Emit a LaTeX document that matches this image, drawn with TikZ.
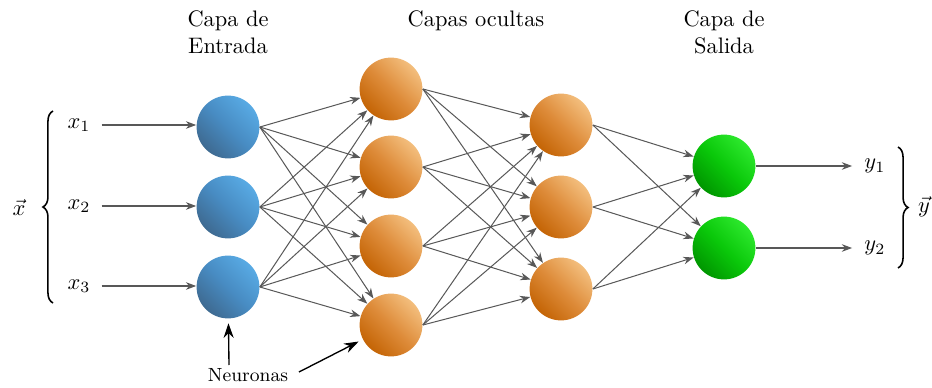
\documentclass[tikz,border=0pt]{standalone}
\usetikzlibrary{arrows.meta,decorations.pathreplacing,calc}
\definecolor{edgegray}{RGB}{88,88,88}
\definecolor{blueL}{RGB}{88,170,228}
\definecolor{blueM}{RGB}{72,140,195}
\definecolor{blueD}{RGB}{62,106,145}
\definecolor{orangeL}{RGB}{243,190,125}
\definecolor{orangeM}{RGB}{222,140,58}
\definecolor{orangeD}{RGB}{196,100,5}
\definecolor{greenL}{RGB}{45,232,45}
\definecolor{greenM}{RGB}{10,200,10}
\definecolor{greenD}{RGB}{0,150,0}
\begin{document}
\begin{tikzpicture}[x=0.446pt,y=-0.446pt,
  neuron/.style={circle,minimum size=28pt,inner sep=0pt},
  inneuron/.style={neuron,top color=blueL,bottom color=blueD,middle color=blueM,shading angle=-45},
  hidneuron/.style={neuron,top color=orangeL,bottom color=orangeD,middle color=orangeM,shading angle=-45},
  outneuron/.style={neuron,top color=greenL,bottom color=greenD,middle color=greenM,shading angle=-45},
  edge/.style={draw=edgegray,line width=0.45pt,-{Stealth[length=4.6pt,width=3.4pt]}},
  pointer/.style={draw=black,line width=0.6pt,-{Stealth[length=6.5pt,width=4.5pt]},shorten >=2pt},
  title/.style={align=center,inner sep=0pt,anchor=north},
  bracestyle/.style={decorate,decoration={brace,amplitude=4.5pt},line width=0.7pt}
]
\useasboundingbox (0,0) rectangle (932,388);

% titles
\node[title] (t1) at (228,10) {Capa de\\Entrada};
\node[title] (t2) at (476,10) {Capas ocultas};
\node[title] (t3) at (724,10) {Capa de\\Salida};

% neurons
\node[inneuron] (i1) at (228,127) {};
\node[inneuron] (i2) at (228,207) {};
\node[inneuron] (i3) at (228,287) {};
\node[hidneuron] (h1) at (391,89) {};
\node[hidneuron] (h2) at (391,167) {};
\node[hidneuron] (h3) at (391,246) {};
\node[hidneuron] (h4) at (391,325) {};
\node[hidneuron] (g1) at (561,125) {};
\node[hidneuron] (g2) at (561,207) {};
\node[hidneuron] (g3) at (561,289) {};
\node[outneuron] (o1) at (724,166) {};
\node[outneuron] (o2) at (724,248) {};

% connections
\foreach \s in {1,2,3}{\foreach \t in {1,2,3,4}{\draw[edge] (i\s.east) -- (h\t);}}
\foreach \s in {1,2,3,4}{\foreach \t in {1,2,3}{\draw[edge] (h\s.east) -- (g\t);}}
\foreach \s in {1,2,3}{\foreach \t in {1,2}{\draw[edge] (g\s.east) -- (o\t);}}

% inputs
\node (x1) at (79,125) {$x_1$};
\node (x2) at (79,206) {$x_2$};
\node (x3) at (79,286) {$x_3$};
\foreach \k in {1,2,3}{\draw[edge,shorten <=1.5pt] (x\k.east) -- (x\k.east -| i\k.west);}
\coordinate (lbB) at (53,303);
\coordinate (lbT) at (53,111);
\draw[bracestyle] (lbB) -- (lbT);
\node (xv) at (19,207) {$\vec{x}$};

% outputs
\node (y1) at (875,166) {$y_1$};
\node (y2) at (875,248) {$y_2$};
\foreach \k in {1,2}{\draw[edge,shorten >=2pt] (o\k.east) -- (o\k.east -| y\k.west);}
\coordinate (rbT) at (898,147);
\coordinate (rbB) at (898,268);
\draw[bracestyle] (rbT) -- (rbB);
\node (yv) at (924,207) {$\vec{y}$};

% neuron pointer
\node[font=\fontsize{8.5}{10}\selectfont,anchor=base] (neur) at (248,381) {Neuronas};
\coordinate (n1) at (229,365);
\coordinate (n2) at (299,372);
\draw[pointer] (n1) -- (i3);
\draw[pointer] (n2) -- (h4);
\end{tikzpicture}
\end{document}
